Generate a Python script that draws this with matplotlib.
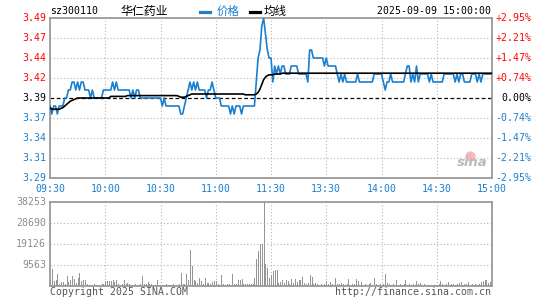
import matplotlib
matplotlib.use('Agg')
import matplotlib.pyplot as plt
from matplotlib.transforms import blended_transform_factory
from matplotlib.lines import Line2D
import numpy as np

# ---------------- data ----------------
code = "sz300110"
name = "华仁药业"
stamp = "2025-09-09 15:00:00"
prev_close = 3.39

price = [
    3.38, 3.37, 3.38, 3.38, 3.37, 3.38, 3.38, 3.38, 3.39, 3.39,
    3.40, 3.40, 3.41, 3.41, 3.40, 3.41, 3.40, 3.41, 3.41, 3.40,
    3.40, 3.40, 3.39, 3.40, 3.39, 3.39, 3.39, 3.39, 3.39, 3.40,
    3.40, 3.40, 3.40, 3.40, 3.41, 3.40, 3.41, 3.40, 3.40, 3.40,
    3.40, 3.40, 3.40, 3.40, 3.39, 3.40, 3.39, 3.40, 3.40, 3.39,
    3.39, 3.39, 3.39, 3.39, 3.39, 3.39, 3.39, 3.39, 3.39, 3.39,
    3.39, 3.38, 3.39, 3.38, 3.38, 3.38, 3.38, 3.38, 3.38, 3.38,
    3.38, 3.37, 3.37, 3.38, 3.39, 3.40, 3.41, 3.40, 3.41, 3.40,
    3.41, 3.40, 3.40, 3.40, 3.40, 3.39, 3.40, 3.40, 3.41, 3.40,
    3.39, 3.39, 3.39, 3.38, 3.38, 3.38, 3.38, 3.38, 3.37, 3.38,
    3.37, 3.38, 3.38, 3.38, 3.37, 3.38, 3.38, 3.38, 3.38, 3.38,
    3.38, 3.38, 3.41, 3.44, 3.45, 3.48, 3.49, 3.47, 3.45, 3.44,
    3.44, 3.41, 3.43, 3.42, 3.43, 3.42, 3.43, 3.43, 3.42, 3.42,
    3.42, 3.43, 3.43, 3.43, 3.43, 3.42, 3.42, 3.42, 3.42, 3.42,
    3.41, 3.45, 3.45, 3.44, 3.44, 3.44, 3.44, 3.44, 3.44, 3.43,
    3.44, 3.43, 3.43, 3.43, 3.43, 3.43, 3.42, 3.41, 3.42, 3.41,
    3.42, 3.41, 3.41, 3.41, 3.41, 3.41, 3.41, 3.42, 3.41, 3.41,
    3.41, 3.41, 3.41, 3.41, 3.41, 3.41, 3.42, 3.42, 3.42, 3.42,
    3.42, 3.41, 3.40, 3.41, 3.41, 3.42, 3.41, 3.41, 3.41, 3.41,
    3.41, 3.41, 3.41, 3.42, 3.43, 3.43, 3.41, 3.42, 3.41, 3.43,
    3.41, 3.42, 3.42, 3.42, 3.42, 3.42, 3.41, 3.42, 3.41, 3.41,
    3.41, 3.41, 3.41, 3.41, 3.42, 3.42, 3.42, 3.42, 3.42, 3.42,
    3.41, 3.42, 3.41, 3.42, 3.42, 3.41, 3.41, 3.41, 3.41, 3.42,
    3.42, 3.42, 3.41, 3.42, 3.41, 3.42, 3.42, 3.42, 3.42, 3.42,
    3.42,
]

avg = [
    3.378, 3.376, 3.376, 3.376, 3.376, 3.376, 3.377, 3.378, 3.380, 3.382,
    3.384, 3.386, 3.387, 3.388, 3.389, 3.390, 3.390, 3.390, 3.390, 3.390,
    3.390, 3.390, 3.390, 3.390, 3.390, 3.390, 3.390, 3.390, 3.390, 3.390,
    3.390, 3.390, 3.390, 3.392, 3.392, 3.392, 3.392, 3.392, 3.392, 3.392,
    3.392, 3.392, 3.393, 3.393, 3.393, 3.393, 3.393, 3.393, 3.393, 3.393,
    3.393, 3.393, 3.393, 3.393, 3.393, 3.393, 3.393, 3.393, 3.393, 3.393,
    3.393, 3.393, 3.393, 3.393, 3.393, 3.393, 3.393, 3.393, 3.393, 3.393,
    3.392, 3.391, 3.391, 3.391, 3.392, 3.393, 3.394, 3.395, 3.395, 3.395,
    3.395, 3.395, 3.395, 3.395, 3.395, 3.395, 3.395, 3.395, 3.395, 3.395,
    3.395, 3.395, 3.395, 3.395, 3.395, 3.395, 3.395, 3.395, 3.395, 3.395,
    3.395, 3.395, 3.395, 3.395, 3.395, 3.395, 3.394, 3.394, 3.394, 3.394,
    3.394, 3.394, 3.395, 3.397, 3.401, 3.407, 3.413, 3.416, 3.418, 3.419,
    3.419, 3.419, 3.420, 3.420, 3.420, 3.420, 3.421, 3.421, 3.421, 3.421,
] + [3.421] * 111

volume = [
    3000, 7600, 2300, 2600, 5600, 1000, 1800, 1700, 1000, 4400,
    1800, 2600, 4400, 3300, 1400, 3800, 5800, 2300, 2600, 2600,
    700, 600, 500, 600, 1000, 600, 500, 600, 700, 900,
    2100, 2100, 2100, 2100, 2600, 1800, 2900, 700, 600, 700,
    2600, 800, 1500, 700, 600, 500, 700, 600, 500, 700,
    4400, 700, 1000, 1800, 1000, 700, 600, 500, 2600, 600,
    500, 600, 500, 700, 600, 500, 600, 1000, 600, 500,
    700, 5800, 1000, 700, 5300, 2900, 16200, 9300, 2600, 2100,
    1400, 3800, 2300, 800, 3800, 1400, 1400, 700, 1700, 2100,
    2100, 1000, 600, 4900, 700, 600, 1000, 700, 600, 5600,
    1000, 700, 2600, 2600, 3300, 1000, 1000, 1000, 1000, 1000,
    700, 3800, 12100, 15800, 19300, 19300, 38253, 9900, 8200, 3600,
    4900, 6700, 7100, 7100, 1400, 1800, 2600, 1400, 2900, 2300,
    800, 3300, 1400, 3300, 1800, 2600, 2600, 4100, 1400, 700,
    1400, 4900, 4100, 700, 1400, 700, 600, 700, 600, 700,
    2300, 700, 1800, 1000, 600, 3800, 1000, 700, 1400, 700,
    600, 700, 3000, 600, 1000, 700, 3300, 2300, 600, 1800,
    600, 1000, 600, 700, 1400, 600, 3800, 1000, 600, 700,
    600, 700, 5300, 1400, 1000, 600, 700, 600, 2600, 600,
    1000, 600, 700, 2900, 600, 1000, 600, 700, 600, 2300,
    700, 1400, 600, 1000, 600, 500, 600, 500, 600, 500,
    600, 700, 2100, 1000, 600, 700, 1800, 600, 700, 700,
    600, 700, 1400, 1700, 600, 700, 1000, 1800, 600, 700,
    600, 1000, 600, 700, 1800, 2100, 2600, 2600, 1500, 2000,
    2600,
]

price_levels = [3.29, 3.315, 3.34, 3.365, 3.39, 3.415, 3.44, 3.465, 3.49]
price_labels = ['3.29', '3.31', '3.34', '3.37', '3.39', '3.42', '3.44', '3.47', '3.49']
pct_labels = ['-2.95%', '-2.21%', '-1.47%', '-0.74%', '0.00%', '+0.74%', '+1.47%', '+2.21%', '+2.95%']
time_ticks = [0, 30, 60, 90, 120, 150, 180, 210, 240]
time_labels = ['09:30', '10:00', '10:30', '11:00', '11:30', '13:30', '14:00', '14:30', '15:00']
vol_levels = [9563, 19126, 28690, 38253]
vol_labels = ['9563', '19126', '28690', '38253']

# ---------------- style ----------------
W, H = 545, 300
RED = '#ff0000'
BLUE = '#1a7fcf'
BORDER = '#9a9a9a'
GRID = '#b4b4b4'
VOLC = '#959595'
MONO = 'DejaVu Sans Mono'
CJK = ['Noto Sans CJK SC', 'DejaVu Sans']
FS = 7.1

fig = plt.figure(figsize=(W / 100, H / 100), dpi=100)
fig.patch.set_facecolor('white')


def rect(x0, y0, x1, y1):
    return [x0 / W, 1 - y1 / H, (x1 - x0) / W, (y1 - y0) / H]


ax = fig.add_axes(rect(50, 18, 492, 178))
axv = fig.add_axes(rect(50, 202, 492, 286))

minutes = np.arange(len(price))

for a in (ax, axv):
    a.set_xlim(0, 240)
    a.set_xticks([])
    a.set_yticks([])
    for s in a.spines.values():
        s.set_color(BORDER)
        s.set_linewidth(1.3)
    for t in time_ticks[1:-1]:
        a.axvline(t, color=GRID, lw=0.8, ls=(0, (1, 2)), zorder=1)

# main price panel
ax.set_ylim(3.29, 3.49)
for lv in price_levels[1:-1]:
    if abs(lv - prev_close) < 1e-9:
        ax.axhline(lv, color='black', lw=0.9, ls=(0, (3, 2)), zorder=2)
    else:
        ax.axhline(lv, color=GRID, lw=0.8, ls=(0, (1, 2)), zorder=1)

ax.plot(minutes, price, color=BLUE, lw=1.2, zorder=3)
ax.plot(minutes, avg, color='black', lw=1.2, zorder=4)

trL = blended_transform_factory(fig.transFigure, ax.transData)
for lv, lab in zip(price_levels, price_labels):
    col = RED if lv > prev_close + 1e-9 else ('black' if abs(lv - prev_close) < 1e-9 else BLUE)
    ax.text(46.5 / W, lv, lab, transform=trL, ha='right', va='center',
            color=col, fontsize=FS, family=MONO)
for lv, lab in zip(price_levels, pct_labels):
    col = RED if lv > prev_close + 1e-9 else ('black' if abs(lv - prev_close) < 1e-9 else BLUE)
    ax.text(531.5 / W, lv, lab, transform=trL, ha='right', va='center',
            color=col, fontsize=FS, family=MONO)

trX = blended_transform_factory(ax.transData, fig.transFigure)
for t, lab in zip(time_ticks, time_labels):
    ax.text(t, 1 - 188.5 / H, lab, transform=trX, ha='center', va='center',
            color=BLUE, fontsize=FS, family=MONO)

# sina watermark
ax.scatter([0.951], [0.137], s=55, color='#f4a6a6', alpha=0.8, transform=ax.transAxes,
           zorder=2, linewidths=0)
ax.text(0.955, 0.095, 'sina', transform=ax.transAxes, ha='center', va='center',
        fontsize=9.5, style='italic', weight='bold', color='#b9b9b9', zorder=2)

# volume panel
axv.set_ylim(0, vol_levels[-1])
for lv in vol_levels[:-1]:
    axv.axhline(lv, color=GRID, lw=0.8, ls=(0, (1, 2)), zorder=1)
axv.vlines(minutes, 0, volume, color=VOLC, lw=0.72, zorder=3, antialiased=False)
trV = blended_transform_factory(fig.transFigure, axv.transData)
for lv, lab in zip(vol_levels, vol_labels):
    axv.text(46 / W, lv, lab, transform=trV, ha='right', va='center',
             color='#8c8c8c', fontsize=FS, family=MONO)

# header
yh = 1 - 11.5 / H
fig.text(50 / W, yh, code, ha='left', va='center', fontsize=FS, family=MONO, color='black')
fig.text(144 / W, yh, name, ha='center', va='center', fontsize=8.6, family=CJK, color='black')
fig.add_artist(Line2D([200 / W, 209.5 / W], [yh, yh], color=BLUE, lw=2.3, transform=fig.transFigure))
fig.text(216.5 / W, yh, '价格', ha='left', va='center', fontsize=8.3, family=CJK, color=BLUE)
fig.add_artist(Line2D([250 / W, 259.5 / W], [yh, yh], color='black', lw=2.3, transform=fig.transFigure))
fig.text(263.5 / W, yh, '均线', ha='left', va='center', fontsize=8.3, family=CJK, color='black')
fig.text(491 / W, yh, stamp, ha='right', va='center', fontsize=FS, family=MONO, color='black')

# footer
yf = 1 - 292 / H
fig.text(50 / W, yf, 'Copyright 2025 SINA.COM', ha='left', va='center', fontsize=FS,
         family=MONO, color='#555555')
fig.text(491 / W, yf, 'http://finance.sina.com.cn', ha='right', va='center', fontsize=FS,
         family=MONO, color='#555555')

fig.savefig('out.png', dpi=100, facecolor='white')
